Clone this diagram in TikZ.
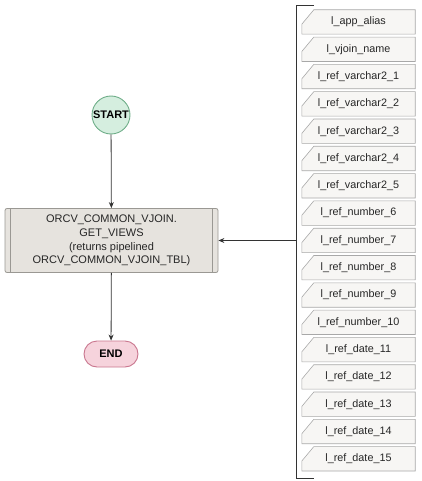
\documentclass[tikz,border=0pt]{standalone}
\usepackage{fontspec}
\setmainfont{Liberation Sans}
\usetikzlibrary{arrows.meta,shapes.misc}
\definecolor{startfill}{HTML}{D5EEDF}
\definecolor{startline}{HTML}{6FAE89}
\definecolor{procfill}{HTML}{E6E3DE}
\definecolor{procline}{HTML}{9A9893}
\definecolor{endfill}{HTML}{F6D3DC}
\definecolor{endline}{HTML}{C9768E}
\definecolor{cardfill}{HTML}{F7F6F4}
\definecolor{cardline}{HTML}{A8A8A8}
\definecolor{conn}{HTML}{333333}
\tikzset{
  startnode/.style={circle,draw=startline,fill=startfill,line width=0.9pt,minimum size=38pt,inner sep=0pt,font=\fontsize{11}{13}\selectfont\bfseries},
  procnode/.style={rectangle,rounded corners=2pt,draw=procline,fill=procfill,line width=0.8pt,minimum width=213pt,minimum height=64pt,align=center,inner sep=0pt,font=\fontsize{11}{13.6}\selectfont,text=black!85},
  endnode/.style={rounded rectangle,draw=endline,fill=endfill,line width=0.9pt,minimum width=54pt,minimum height=26pt,inner sep=0pt,font=\fontsize{11}{13}\selectfont\bfseries},
  cardnode/.style={rectangle,minimum width=113pt,minimum height=24pt,inner sep=0pt,font=\fontsize{10.8}{13}\selectfont,text=black!85},
  cardshape/.style={draw=cardline,fill=cardfill,line width=0.6pt},
  connector/.style={draw=conn,line width=0.8pt,-{Stealth[length=6pt,width=5pt]}},
  bracket/.style={draw=conn,line width=0.8pt}
}
\begin{document}
\begin{tikzpicture}[x=1pt,y=1pt]
\useasboundingbox (0,0) rectangle (421,-481);
\node[startnode] (start) at (111,-115) {START};
\node[procnode] (main) at (111.5,-240.5) {ORCV\_COMMON\_VJOIN.\\GET\_VIEWS\\(returns pipelined\\ORCV\_COMMON\_VJOIN\_TBL)};
\draw[procline,line width=0.8pt] ([xshift=6pt]main.north west) -- ([xshift=6pt]main.south west);
\draw[procline,line width=0.8pt] ([xshift=-6pt]main.north east) -- ([xshift=-6pt]main.south east);
\node[endnode] (end) at (111,-354) {END};
\foreach \lab [count=\i from 0] in {l\_app\_alias,l\_vjoin\_name,l\_ref\_varchar2\_1,l\_ref\_varchar2\_2,l\_ref\_varchar2\_3,l\_ref\_varchar2\_4,l\_ref\_varchar2\_5,l\_ref\_number\_6,l\_ref\_number\_7,l\_ref\_number\_8,l\_ref\_number\_9,l\_ref\_number\_10,l\_ref\_date\_11,l\_ref\_date\_12,l\_ref\_date\_13,l\_ref\_date\_14,l\_ref\_date\_15}{
  \node[cardnode] (p\i) at (358.5,{-22-27.3*\i}) {};
  \path[cardshape] ([xshift=12pt]p\i.north west) -- (p\i.north east) -- (p\i.south east) -- (p\i.south west) -- ([yshift=10pt]p\i.south west) -- cycle;
  \node[cardnode] at (p\i) {\lab};
}
\coordinate (bt) at (314,-5);
\coordinate (btc) at (296,-5);
\coordinate (bbc) at (296,-478);
\coordinate (bb) at (314,-478);
\coordinate (bmid) at (296,-240.5);
\draw[bracket] (bt) -- (btc) -- (bbc) -- (bb);
\draw[connector] (start) -- (main);
\draw[connector] (main) -- (end);
\draw[connector] (bmid) -- (main.east);
\end{tikzpicture}
\end{document}
